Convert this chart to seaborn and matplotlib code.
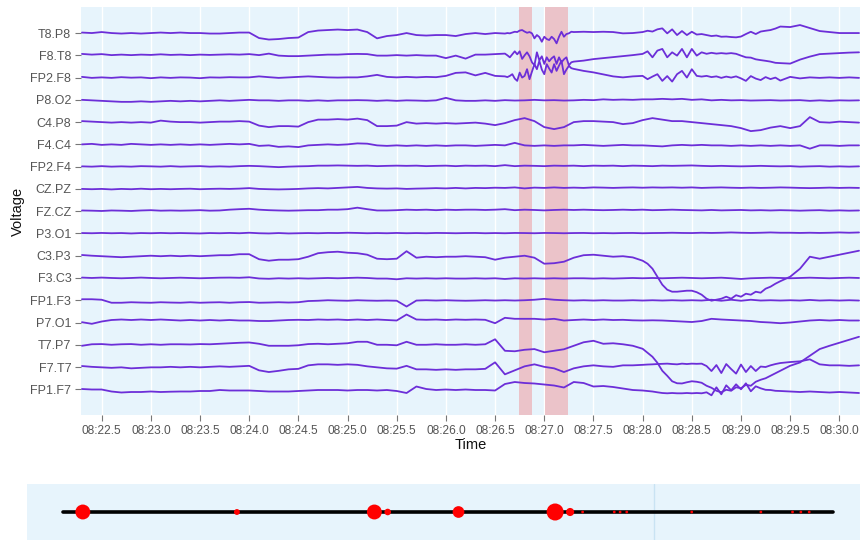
import numpy as np
import pandas as pd
import matplotlib
matplotlib.use("Agg")
import matplotlib.pyplot as plt
import seaborn as sns

# ---------------- data ----------------
CHANNELS = ["FP1.F7", "F7.T7", "T7.P7", "P7.O1", "FP1.F3", "F3.C3", "C3.P3",
            "P3.O1", "FZ.CZ", "CZ.PZ", "FP2.F4", "F4.C4", "C4.P8", "P8.O2",
            "FP2.F8", "F8.T8", "T8.P8"]

# coarse sampling of the whole window (seconds within minute 08)
TIME = [round(22.3 + 0.1 * i, 3) for i in range(80)]
# finer sampling inside the two burst windows
BURST1_TIME = [round(26.6 + 0.025 * j, 3) for j in range(29)]
BURST2_TIME = [round(28.0 + 0.05 * k, 3) for k in range(29)]

T8_P8 = [0.5, 0, 1, 0, -0.5, 0, -0.5, 0, 0.5, 0,
         0.5, 0, 0, -0.5, -0.5, 0, 0.5, 0.5, -5, -6.5,
         -6, -5, -4.5, 1, 2.5, 3, 3.5, 3, 3.5, 1,
         -5.3, -3, -2, 0, -2, -2.5, -2, -2, -3, -1,
         0, -1, 0, -0.5, 1, 3, -3, -8, -5, 0,
         1, 1.3, 1, 1.3, 1, -0.3, 0, 1, 2.5, 4.5,
         2, 0, 1, -1, -2, -3, -4, -3, 0, 2,
         3, 6, 6, 8, 5, 2, 1, 0, 0, 0]
F8_T8 = [1.4, 0.7, 1.2, 0.2, 0.7, 0.2, 0.7, 0.4, 1, 0.4,
         0.7, 0.2, 0.7, 0.4, 0.7, 1, 0.7, 1.2, 0.2, 1.7,
         -0.3, -0.8, -0.8, -0.3, 0.2, 0.7, 0.7, 1.2, 1.4, 1.2,
         -0.3, -0.3, 0.2, -0.3, 0.2, -0.3, -0.3, -2.8, -0.3, -3.3,
         0.7, 0.7, 1.2, 1.7, 4.7, -5.3, 3.2, -8.3, -2.3, -5.3,
         -6.3, -5.3, -3.8, -2.8, -1.8, -0.8, 0.2, 1.2, 2.7, -0.3,
         4.7, -1.3, 4.7, 0.7, 2.2, 1.7, 2.2, -0.3, -2.3, -4.8,
         -6.3, -7.8, -8.3, -4.3, -1.3, 1.2, 1.7, 2.2, 2.7, 3]
FP2_F8 = [0.7, -0.3, 0.2, -0.3, 0.4, -0.1, 0.2, -0.6, 0.2, -0.3,
          0.2, 0, -0.6, 0.2, 0, 0.4, 0.2, 0.2, 1.2, 0.4,
          -0.3, 0.2, 0.7, 1.2, 0.7, 0.2, 0, 0.2, 0.2, 1.2,
          2.7, 0.7, 0.2, 0.7, 0.2, 0.7, 0.4, 1.7, 4.7, 5.2,
          2.2, 4.7, 1.7, 1.2, -2.3, 6.7, -0.3, 13.7, 4.7, 13.7,
          8.7, 6.7, 5.2, 3.2, 1.2, 0.2, 1.2, -0.3, 2.7, -1.3,
          3.7, -1.3, 3.7, 0.2, 0.7, -0.3, 0.2, -0.8, 1.2, -1.3,
          0.2, -1.8, 0.7, -0.8, 0.2, -0.3, 0.2, -0.3, 0.2, -0.3]
P8_O2 = [0, -0.5, -1, -1.5, -2, -2, -1.5, -2, -1.5, -1,
         -1.5, -1, -1.5, -1, -0.5, -1, -0.5, 0, -0.5, -0.5,
         -1, -0.5, -0.5, -1, -0.5, -1, -0.5, -0.5, -0.3, -0.5,
         -1, -0.5, -1, -0.5, -0.7, -1, -0.5, 2, -0.5, -1,
         -1, -0.5, -1, -0.3, -0.7, -0.5, 0, -0.5, -0.3, -0.7,
         -0.5, 0, -0.3, 0.5, 0, 0.3, 0, 0.5, 0.5, 1,
         0.5, 1, 0, 0.5, -0.5, 0, -0.5, -0.3, -0.7, -0.5,
         -0.3, -0.7, -0.5, -0.3, -1, -0.5, -1, -0.5, -0.7, -0.5]
C4_P8 = [1, 0.5, 0, -0.5, 0, -0.5, 0, -0.5, 1.5, 0.5,
         0, 0, -0.5, 0, 0.5, 0.5, 1, 0.5, -3.5, -5,
         -4, -4, -4.5, 0, 2.5, 2.5, 3, 2.5, 3.5, 2,
         -4, -4, -3.5, 0, -1.5, -1, -1.5, -1, -1.5, -1,
         -0.5, -1.5, -3, -1, 2, 4, 1, -5, -7, -5,
         0, 1, 1, 0.5, 0, -2, -1, 2, 4, 2.5,
         1, 1, 0, -1, -2, -3, -4, -6, -9, -8,
         -5.5, -4, -6, -4, 5, 0, -0.5, 0.5, 0, -0.5]
F4_C4 = [0, 0.5, -0.5, 0, -0.5, 0.5, 0, -0.5, 0, -0.5,
         0, -0.5, 0, -0.5, 0, 0.5, 0, 0.5, -1.5, -1,
         -2.5, -2, -2.7, -1, -0.5, 0, -0.5, 0, 1, 0.7,
         -1, -1.5, -1, -1.5, -1, -1.5, -1, -1.5, -1, -1,
         -1.5, -1, -0.5, -1, 1.5, -1, -1.5, -1, -1.5, -1,
         -1, -0.5, -1, -1.5, -1, -0.5, -1, -1, -1.5, -2,
         -1, -0.5, -1, -0.5, -1, -1, -1.5, -1, -1.5, -1,
         -1.5, -1, -1.5, -1, -4.3, -1, -1, -1.5, -1, -1]
FP2_F4 = [0.3, 0, 0.5, 0, 0.3, 0, 0.5, 0.3, 0, 0.5,
          0, 0.3, 0.5, 0, 0.3, 0, 0.5, 0.8, 0.5, 0,
          -0.5, 0, 0.3, 0.5, 1, 1, 1.2, 1, 0.8, 1,
          0.5, 0.8, 1, 0.8, 1, 0.5, 0.8, 1, 0.5, 1,
          0.8, 1, 0.5, 1.5, 0.5, 1, 0.8, 0.5, 1, 0.8,
          1, 0.5, 1, 0.8, 1, 0.5, 1, 0.8, 0.5, 1,
          0.8, 1, 1.2, 0.8, 0.5, 0.8, 0.5, 0.3, 0.5, 0.8,
          0.5, 0.3, 0.5, 0, 0.3, 0.5, 0, 0.3, 0, 0.3]
CZ_PZ = [0, -0.3, 0, -0.5, 0, -0.3, 0.2, -0.3, 0, -0.3,
         0, 0.2, -0.3, 0, 0.2, 0, 0.3, 0.8, 0, -0.3,
         -0.5, -0.3, 0, 0.5, 0.8, 0.5, 1, 1.5, 2, 1,
         0.5, 0.3, 0.5, 0, 0.3, 0.5, 0.8, 0.5, 1, 0.5,
         1, 0.8, 1.2, 1, 1.5, 0.5, 1.3, 1, 1.5, 1,
         1.3, 1, 1.5, 1.3, 1, 1.3, 1.5, 1.2, 1.5, 1.3,
         1.5, 1.2, 1.5, 1, 1.3, 1.5, 1.2, 1, 1.3, 1,
         1.2, 1.5, 1.3, 1, 0.8, 1, 1.3, 1, 1.2, 1]
FZ_CZ = [0.7, 0.5, 0.2, 0.7, 0.5, 0.2, 0.7, 1, 0.5, 0.7,
         0.5, 0.7, 1, 0.5, 0.7, 1.5, 2, 2.4, 1.5, 1,
         0.7, 0.5, 0.7, 1, 1, 1.5, 1.5, 2, 3.5, 2,
         0.7, 0.7, 1, 1.5, 1.2, 1.5, 1, 1.5, 1.2, 1.5,
         1.5, 1.2, 1.5, 2, 1, 1.5, 1.2, 0.8, 1.2, 1.5,
         1.2, 1.5, 1.2, 1, 1.2, 1.5, 1.2, 1.5, 1, 1.2,
         1.5, 1.2, 1, 0.8, 1.2, 0.8, 1, 1.2, 0.8, 1,
         0.7, 1, 0.8, 0.5, 0.8, 1, 0.5, 0.8, 0.5, 0.7]
P3_O1 = [0.4, 0.2, 0.5, 0.2, 0.4, 0, 0.4, 0.2, 0.5, 0.2,
         0.4, 0.2, 0, 0.4, 0.2, 0.5, 0.2, 0.7, 0.2, 0,
         0.4, 0, 0.2, 0.4, 0.2, 0.5, 0.4, 0.7, 0.5, 0.2,
         0.4, 0.2, 0.5, 0.2, 0.4, 0.2, 0.5, 0.4, 0.2, 0.4,
         0.5, 0.2, 0.4, 0.2, 0.5, 0.4, 0.2, 0.5, 0.4, 0.2,
         0.4, 0.5, 0.2, 0.4, 0.2, 0.4, 0.5, 0.2, 0.4, 0.5,
         0.7, 0.5, 0.4, 0.7, 0.5, 0.7, 1, 0.7, 0.5, 0.7,
         1, 0.7, 0.7, 0.5, 0.7, 0.5, 0.7, 1, 0.7, 1]
C3_P3 = [0.7, 0, -0.5, -1, -1.5, -1, -0.5, 0, -0.5, 0,
         -0.5, 0, -0.5, 0, 0.5, 0.5, 1.5, 1.5, -3.5, -5,
         -4, -4, -3.5, -1, 2.5, 3.5, 4, 3, 2.5, 1,
         -3, -3.5, -3, 4.5, -2, -1, -1.5, -1, -1, -0.5,
         -1, -1.5, -4, -2, -1, 0, -2, -8, -7.5, -6,
         -2, 0.5, 1, 0, -1, -0.5, -1.7, -5, -13, -28,
         -36, -36, -35, -39, -45, -43, -41.5, -40, -38.5, -36,
         -32, -27, -21, -13, -1, -3, -1, 1, 3, 5]
F3_C3 = [0.4, 0, 0.4, 0, -0.3, 0, 0.4, 0, -0.3, 0,
         0.3, 0, -0.3, 0, 0.3, 0.4, 0.2, 0.7, -0.5, -0.8,
         -0.3, -0.6, -0.3, -0.6, -0.3, 0, -0.3, 0, 0.3, 0,
         -0.6, -0.6, -1.3, -0.3, -0.6, -0.3, -0.6, -0.3, -0.6, -0.6,
         -0.3, -0.6, -0.3, -1, -0.3, -0.6, -0.3, -0.6, -0.3, -0.6,
         -0.3, -0.3, -0.6, -0.3, -0.6, -0.3, 0, -0.3, 0, -0.3,
         0, 0.3, 0, -0.3, 0, 0.3, -0.3, -1, -0.3, 0,
         0.3, 0, -0.3, 0, 0.3, 0, -0.3, 0, 0.3, 0]
FP1_F3 = [1, 1, 0.5, -2.5, -2.5, -2, -2.3, -2.5, -2, -2.3,
          -2.5, -2, -2.5, -2.2, -2, -2.5, -2, -1.8, -2.5, -2.3,
          -2, -2.3, -2, -0.8, -0.5, 0, -0.3, -0.5, 0, -0.3,
          -0.5, -0.3, -0.5, -6.3, -0.3, 0, -0.3, 0, -0.3, -0.5,
          -0.3, 0, -0.3, 0, -0.3, 0, 0.5, 1.4, 0.5, 0,
          -0.3, 0, -0.3, 0, -0.3, -0.3, 0, -0.3, 0, -0.3,
          0, -0.3, 0, -0.3, 0.5, -0.5, 0.5, -0.5, 0.5, -0.3,
          0, -0.3, 0, -0.3, 0.3, -0.3, 0, -0.3, 0, -0.3]
P7_O1 = [0.3, -1.3, 1, 2.5, 3, 2.5, 3, 2.5, 3, 2.5,
         2, 2.5, 2, 2.5, 2, 2.5, 2, 2, 1.5, 1.5,
         2, 2.5, 2.7, 2.5, 3, 2.7, 3, 2.5, 3, 2.5,
         3, 2.5, 2, 8, 3, 2.7, 3, 2.5, 3, 2.7,
         3, 2.7, -0.7, 4.7, 3.7, 3.7, 3.7, 3, 3.7, 2,
         2.5, 3, 2.5, 3, 2.5, 2.7, 2.2, 2, 2.2, 2,
         1.5, 1, 0.5, 1.5, 3.7, 3, 2.5, 2, 1.5, 0.5,
         0, -0.7, 0, 1, 2, 2.5, 2, 2.5, 2, 2]
T7_P7 = [-1, 0.5, 0.7, 0, 0.5, 0.7, 0, 0.5, 0, 0.5,
         0.5, 0.3, 0.7, 0.5, 1, 1.5, 2, 2.3, 1, -1,
         -1, -1, -0.5, 0.7, 1, 0.5, 1, 1.5, 3, 3,
         0, 0, -0.5, 3, 0, 0, 0.5, 0, 0, 0.5,
         0, 0.5, 5.5, -6, -6.5, -5, -4.3, -7.5, -6, -4.5,
         -1, 2.5, 4, 1, 1.5, 0.5, -1, -4, -12, -25,
         -36.5, -38.7, -37, -37, -42, -47.5, -45, -42.5, -40, -35,
         -31, -26, -21, -17.7, -11, -4.3, -1, 2, 5, 8]
F7_T7 = [1, 0.2, -0.3, -0.8, -0.3, -1.3, -0.8, -0.3, -0.3, 0.2,
         -0.3, 0.2, -0.3, 0.2, 0.7, 0.2, 0.7, 1.2, -3.3, -5,
         -3.8, -2.3, -1.8, 1.7, 2.7, 2.7, 2.2, 2.7, 2.2, 0.7,
         -0.3, -1.3, -1.6, 1.2, -2.3, -2.3, -2.8, -2.3, -2.8, -2.3,
         -2.3, -1.8, 4.7, -7.3, -3.3, 0.7, 2.7, 0.2, -1.3, -5,
         -1.3, 0.7, 1.7, 0.7, 0.2, 1.7, 1.7, 2.2, 2.7, 3.2,
         3.4, 2.7, 3.2, 3.4, -3.3, 2.7, -5.3, 0.7, -5.3, -0.3,
         1.7, 3.7, 5, 5.7, 7.7, 2.7, 1.7, 1.7, 1.2, 1.7]
FP1_F7 = [0.3, -0.2, -0.2, -2.2, -3.2, -2.7, -2.7, -2.2, -2.7, -2.4,
          -2.2, -2.2, -1.7, -1.7, -0.7, -1.2, -1.2, -1.2, -1.7, -2.2,
          -2.2, -2.2, -1.7, -1.2, -0.7, -0.7, -0.7, -1.2, -0.7, -0.7,
          -1.2, -0.7, -1.7, -3.7, 2.8, 0.3, -0.7, -0.2, -0.7, -0.2,
          -0.7, -0.7, -1.2, 5.3, 7.3, 6.3, 5.8, 4.8, 3.8, 1.8,
          7.3, 6.3, 2.8, 3.3, 2.3, 0.8, -0.7, -1.2, -2.2, -3.7,
          -3.7, -4, -3.7, -4, -3.7, 5.3, -5.7, 3.3, -4.7, 2.3,
          -0.7, -1.7, -2.2, -2.7, -2.2, -2.7, -3.2, -2.7, -3.2, -3.7]

# fine detail, burst window 1 (26.6 s - 27.3 s)
T8_P8_B1 = [-0.5, 0, -0.3, 0.5, 1.3, 1, 2.5, 3, 1.5, 0.3,
            1, -0.3, -5.3, -2, -4, -8.7, -3.7, -6, -7, -3.7,
            -6, -10.3, -3.7, 1.3, -3.7, -1, -0.3, 1.3, 1]
F8_T8_B1 = [1.7, 0, -2, 1, 4, 1, 4, -3.6, 0, 3,
            -1, -7, -10, 3, -5, -1, -8.6, -2, -6, -3,
            -1, -8.6, -2, -7, -4, -2, -10, -7, -6.3]
FP2_F8_B1 = [1.2, 0.5, 1.7, 3.4, -1, -3.3, 5, 0, 1.7, 8.4,
             -1.6, 6, 13.4, 8.4, 16.7, 8, 3.4, 13.4, 9, 5,
             13.4, 6.7, 12, 16.7, 3.4, 8, 11.7, 9.4, 8.7]

# fine detail, burst window 2 (28.0 s - 29.4 s)
T8_P8_B2 = [1, 2.3, 1.5, 3.7, 4.7, -0.3, 3.7, -2, 2, -2,
            1.3, -1.5, -1, -2, -3, -2.5, -3.7, -3.5, -4, -4.3,
            -3.5, -1, 1.3, -1, 1.5, 2.3, 3, 4.5, 6.5]
F8_T8_B2 = [1.4, 4, -2, 4.7, 6.4, -2, 3, -0.3, 6.4, -2,
            6.4, -0.3, 3, 1.5, 2.5, 1.7, 2.2, 1.7, 2.2, 1.5,
            -0.3, -2, -2.3, -4, -4.8, -5.5, -6.3, -7.5, -7.8]
FP2_F8_B2 = [1.7, -1.6, 1, 3.4, -3.3, 1.5, -4, 3.4, 6.7, 0,
             8.4, 1.7, 1, 1.7, 0.5, 1.2, -0.3, 1, 0, 1.2,
             -0.8, -3.3, 1.5, -1, -2.5, 0.5, -1.5, 0, -3]
C3_P3_B2 = [-5, -8, -13, -21, -29, -34, -36, -36, -35.5, -35,
            -35, -36.5, -39, -43, -45, -44, -43, -41, -43, -39.5,
            -41, -38, -39, -36, -37, -33, -31, -28, -25.5]
T7_P7_B2 = [-4, -8, -12, -18, -26, -31, -36.5, -38.5, -38.7, -37.5,
            -36.5, -37, -38, -41, -43, -46, -47.5, -45, -46, -42.5,
            -43.5, -40, -41, -37, -35, -33.5, -31, -28.5, -26]
F7_T7_B2 = [2.2, 2.5, 2.7, 3, 3.2, 3.4, 3, 2.7, 3.4, 3,
            3.4, 3.2, 3.4, 1, -4, 2, -6, 3, -2, -6.6,
            2.5, -5, 1, -4, 0.5, 0, 1.7, 3, 4]
FP1_F7_B2 = [-1.2, -1.7, -2.2, -3, -3.7, -4, -3.7, -4, -4, -3.7,
             -4, -3.7, -4, -3, -6, 2, -5, 4, -1, 5,
             0, 6, -2, 3, 1, -0.5, -0.7, -1.5, -1.7]

SIGNALS = [FP1_F7, F7_T7, T7_P7, P7_O1, FP1_F3, F3_C3, C3_P3, P3_O1, FZ_CZ,
           CZ_PZ, FP2_F4, F4_C4, C4_P8, P8_O2, FP2_F8, F8_T8, T8_P8]
BURST1 = {"T8.P8": T8_P8_B1, "F8.T8": F8_T8_B1, "FP2.F8": FP2_F8_B1}
BURST2 = {"T8.P8": T8_P8_B2, "F8.T8": F8_T8_B2, "FP2.F8": FP2_F8_B2,
          "C3.P3": C3_P3_B2, "T7.P7": T7_P7_B2, "F7.T7": F7_T7_B2,
          "FP1.F7": FP1_F7_B2}

# annotated (flagged) intervals, seconds
ANNOT_START = [26.74, 27.005]
ANNOT_END = [26.875, 27.24]

# x-axis ticks (seconds within minute 08)
TICKS = [22.5, 23.0, 23.5, 24.0, 24.5, 25.0, 25.5, 26.0, 26.5, 27.0,
         27.5, 28.0, 28.5, 29.0, 29.5, 30.0]

# overview strip: event positions (% of recording) and event counts
EVENT_POS = [6.7, 25.2, 41.7, 43.3, 51.8, 63.4, 65.2, 66.7, 70.5, 71.2,
             72.0, 79.8, 88.1, 91.9, 92.9, 93.9]
EVENT_COUNT = [49, 7, 49, 9, 30, 64, 14, 1, 1, 1,
               1, 1, 1, 1, 1, 1]
RECORD_SPAN = [4.3, 96.8]
CURSOR_POS = 75.3

# ---------------- style ----------------
LINE_COLOR = "#6c2ed8"
BG = "#e7f4fc"
TEXT = "#555555"
SPACING = 22.27

sns.set_theme(style="white")
plt.rcParams["font.family"] = ["Liberation Sans", "DejaVu Sans"]


def merge(base_t, base_v, windows):
    pts = list(zip(base_t, base_v))
    for wt, wv in windows:
        lo, hi = wt[0], wt[-1]
        pts = [p for p in pts if p[0] < lo or p[0] > hi] + list(zip(wt, wv))
    return sorted(pts)


rows = []
for k, (name, sig) in enumerate(zip(CHANNELS, SIGNALS)):
    wins = []
    if name in BURST1:
        wins.append((BURST1_TIME, BURST1[name]))
    if name in BURST2:
        wins.append((BURST2_TIME, BURST2[name]))
    for t, v in merge(TIME, sig, wins):
        rows.append({"time": t, "channel": name, "voltage": v + k * SPACING})
df = pd.DataFrame(rows)

fig = plt.figure(figsize=(8.6, 5.4), dpi=100)
ax = fig.add_axes([81 / 860, 1 - 415 / 540, 779 / 860, 408 / 540])
ax.set_facecolor(BG)

for t in TICKS:
    ax.axvline(t, color="white", lw=1.0, zorder=0)
for s, e in zip(ANNOT_START, ANNOT_END):
    ax.axvspan(s, e, color="red", alpha=0.2, lw=0, zorder=1)

sns.lineplot(data=df, x="time", y="voltage", units="channel", estimator=None,
             color=LINE_COLOR, lw=1.3, sort=True, ax=ax, zorder=3)

ax.set_xlim(22.29, 30.21)
ax.set_ylim(-1.154 * SPACING, 16 * SPACING + 1.17 * SPACING)
ax.set_xticks(TICKS)
ax.set_xticklabels([f"08:{t:04.1f}" for t in TICKS], fontsize=8.6, color=TEXT)
ax.set_yticks([k * SPACING for k in range(len(CHANNELS))])
ax.set_yticklabels(CHANNELS, fontsize=9, color=TEXT)
ax.tick_params(axis="both", which="major", length=4, width=0.8, color="#777777",
               pad=3, bottom=True, left=True)
for sp in ax.spines.values():
    sp.set_visible(False)
ax.set_xlabel("Time", fontsize=10.5, color="#111111", labelpad=1)
ax.set_ylabel("Voltage", fontsize=10.5, color="#111111", labelpad=4)

# overview strip
nav = fig.add_axes([27 / 860, 0, 833 / 860, 56 / 540])
nav.set_facecolor(BG)
nav.axvline(CURSOR_POS, color="#c9e3f3", lw=1.0, zorder=0)
nav_line = pd.DataFrame({"x": RECORD_SPAN, "y": [0, 0]})
sns.lineplot(data=nav_line, x="x", y="y", color="black", lw=2.6, ax=nav, zorder=2)
ev = pd.DataFrame({"x": EVENT_POS, "y": [0] * len(EVENT_POS), "n": EVENT_COUNT})
sns.scatterplot(data=ev, x="x", y="y", size="n", sizes=(4, 150), color="red",
                edgecolor="none", legend=False, ax=nav, zorder=3)
nav.set_xlim(0, 100)
nav.set_ylim(-1, 1)
nav.set_xticks([])
nav.set_yticks([])
nav.set_xlabel("")
nav.set_ylabel("")
for sp in nav.spines.values():
    sp.set_visible(False)

fig.savefig("out.png", dpi=100)
